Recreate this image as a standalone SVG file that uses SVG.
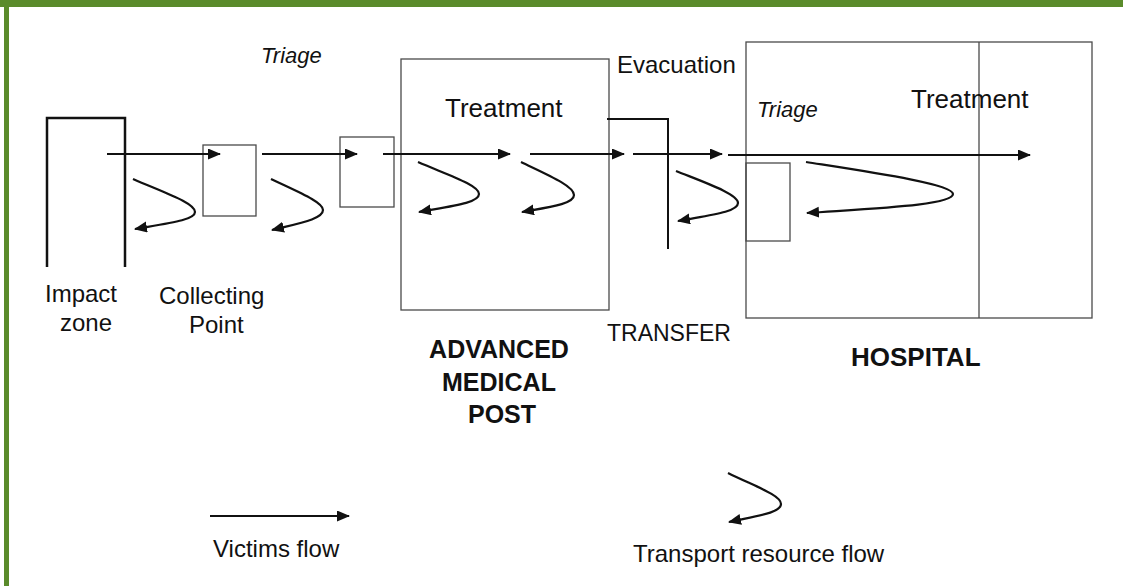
<svg xmlns="http://www.w3.org/2000/svg" width="1123" height="586" viewBox="0 0 1123 586">
<style>
text{font-family:"Liberation Sans",Arial,Helvetica,sans-serif;fill:#111;font-size:24px}
.it{font-style:italic;font-size:22px}
.big{font-size:26px}
.bold{font-weight:bold;font-size:25px}
.box{fill:none;stroke:#4a4a4a;stroke-width:1.3}
.thick{fill:none;stroke:#111;stroke-width:2.5}
.flow{fill:none;stroke:#111;stroke-width:2.2;marker-end:url(#ah)}
.res{fill:none;stroke:#111;stroke-width:2.2;marker-end:url(#ah)}
</style>
<defs>
<marker id="ah" markerUnits="userSpaceOnUse" markerWidth="14" markerHeight="12" refX="12" refY="5.5" orient="auto">
<path d="M0,0 L13,5.5 L0,11 z" fill="#111"/>
</marker>
</defs>
<rect x="0" y="0" width="1123" height="586" fill="#fff"/>
<g id="frame">
<rect x="0" y="0" width="1123" height="7" fill="#5a8b2b"/>
<rect x="4" y="0" width="5" height="586" fill="#5a8b2b"/>
</g>
<g id="impact-zone">
<path class="thick" d="M47,267 V118 H125 V267"/>
<text x="45" y="302">Impact</text>
<text x="60" y="331">zone</text>
</g>
<g id="collecting-point">
<rect class="box" x="203" y="145" width="53" height="71"/>
<text x="159" y="304">Collecting</text>
<text x="189" y="333">Point</text>
</g>
<g id="triage-point">
<rect class="box" x="340" y="137" width="54" height="70"/>
<text class="it" x="261" y="63">Triage</text>
</g>
<g id="advanced-medical-post">
<rect class="box" x="401" y="59" width="208" height="251"/>
<text class="big" x="445" y="117">Treatment</text>
<text class="bold" x="499" y="358" text-anchor="middle">ADVANCED</text>
<text class="bold" x="499" y="391" text-anchor="middle">MEDICAL</text>
<text class="bold" x="502" y="423" text-anchor="middle">POST</text>
</g>
<g id="evacuation">
<path class="thick" style="stroke-width:2" d="M607,119 H668 V249"/>
<text x="617" y="73">Evacuation</text>
<text x="607" y="341" style="font-size:23px">TRANSFER</text>
</g>
<g id="hospital">
<rect class="box" x="746" y="42" width="346" height="276"/>
<line class="box" x1="979" y1="42" x2="979" y2="318"/>
<rect class="box" x="746" y="163" width="44" height="78"/>
<text class="it" x="757" y="117">Triage</text>
<text class="big" x="911" y="108">Treatment</text>
<text class="bold" x="851" y="366" style="font-size:26px">HOSPITAL</text>
</g>
<g id="connectors">
<line class="flow" x1="107" y1="154" x2="220" y2="154"/>
<line class="flow" x1="262" y1="154" x2="357" y2="154"/>
<line class="flow" x1="383" y1="154" x2="510" y2="154"/>
<line class="flow" x1="530" y1="154" x2="624" y2="154"/>
<line class="flow" x1="633" y1="154" x2="722" y2="154"/>
<line class="flow" x1="728" y1="155" x2="1030" y2="155"/>
<path class="res" d="M133,179 C165,193 195,203 195,212 C195,220 170,223 135,229"/>
<path class="res" d="M271,179 C298,192 323,202 323,210 C323,219 300,223 272,230"/>
<path class="res" d="M418,162 C448,175 479,185 479,194 C479,203 452,206 419,212"/>
<path class="res" d="M521,162 C548,175 574,186 574,195 C574,204 550,207 522,212"/>
<path class="res" d="M676,171 C706,183 738,194 738,203 C738,212 710,215 678,221"/>
<path class="res" d="M806,162 C870,172 953,184 953,194 C953,205 880,208 807,213"/>
</g>
<g id="legend">
<line class="flow" x1="210" y1="516" x2="349" y2="516"/>
<text x="213" y="557">Victims flow</text>
<path class="res" d="M728,473 C754,486 781,495 781,504 C781,513 756,516 729,522"/>
<text x="633" y="562">Transport resource flow</text>
</g>
</svg>
